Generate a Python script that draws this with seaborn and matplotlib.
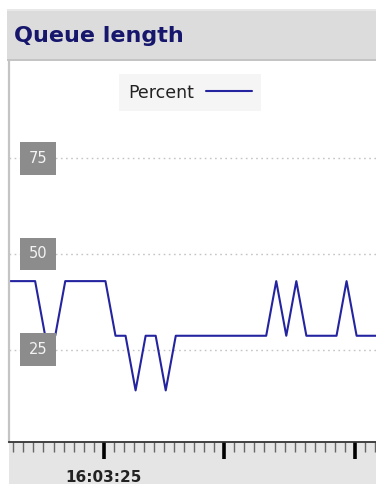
import numpy as np
import pandas as pd
import matplotlib
matplotlib.use("Agg")
import matplotlib.pyplot as plt
from matplotlib.patches import Rectangle
from matplotlib.ticker import FixedLocator, MultipleLocator
import seaborn as sns

# queue length in percent, one sample per second
percent = [42.9, 42.9, 42.9, 42.9, 28.6, 28.6, 42.9, 42.9, 42.9, 42.9,
           42.9, 28.6, 28.6, 14.3, 28.6, 28.6, 14.3, 28.6, 28.6, 28.6,
           28.6, 28.6, 28.6, 28.6, 28.6, 28.6, 28.6, 42.9, 28.6, 42.9,
           28.6, 28.6, 28.6, 28.6, 42.9, 28.6, 28.6, 28.6]
seconds = np.arange(len(percent)) + 0.17
y_ticks = [25, 50, 75]
major_x = [10, 22, 35]
major_labels = ["16:03:25", "", ""]

df = pd.DataFrame({"t": seconds, "Percent": percent})

sns.set_style("white")
plt.rcParams['font.family'] = ['DejaVu Sans']

W, H = 376, 484
fig = plt.figure(figsize=(W / 100, H / 100), dpi=100, facecolor="white")

# title band
fig.patches.append(Rectangle((7 / W, 1 - 61 / H), 1, 51 / H, transform=fig.transFigure,
                             facecolor="#dcdcdc", edgecolor="none", zorder=-2))
fig.patches.append(Rectangle((7 / W, 1 - 61 / H), 1, 1.5 / H, transform=fig.transFigure,
                             facecolor="#c4c4c4", edgecolor="none", zorder=-1))
fig.patches.append(Rectangle((7 / W, 1 - 11 / H), 1, 1.5 / H, transform=fig.transFigure,
                             facecolor="#e8e8e8", edgecolor="none", zorder=-1))
# bottom axis band
fig.patches.append(Rectangle((9 / W, 0), 1, 42 / H, transform=fig.transFigure,
                             facecolor="#e5e5e5", edgecolor="none", zorder=-2))

fig.text(14 / W, 1 - 36 / H, "Queue length", fontsize=16, fontweight="bold",
         color="#16166c", va="center", ha="left")

ax = fig.add_axes([9 / W, 42 / H, 1 - 9 / W, (442 - 61) / H])
ax.set_facecolor("white")

sns.lineplot(data=df, x="t", y="Percent", ax=ax, color="#2424a0", linewidth=1.5,
             label="Percent")

ax.set_xlim(0.57, 37.1)
ax.set_ylim(0.8, 100.5)

for v in y_ticks:
    ax.axhline(v, color="#c4c4c4", linestyle=(0, (1.2, 2.5)), linewidth=1, zorder=0)
    ax.text((38 - 9) / (W - 9), v, str(v),
            transform=ax.get_yaxis_transform(), ha="center", va="center",
            fontsize=10.5, color="#f4f4f4",
            bbox=dict(boxstyle="square,pad=0.6", facecolor="#8c8c8c", edgecolor="none"))

ax.set_yticks([])
ax.xaxis.set_major_locator(FixedLocator(major_x))
ax.xaxis.set_minor_locator(MultipleLocator(1))
ax.set_xticklabels(major_labels)
ax.tick_params(axis="x", which="major", direction="out", length=12, width=2.6,
               color="black", pad=8, labelsize=11, labelcolor="#222222", bottom=True)
ax.tick_params(axis="x", which="minor", direction="out", length=7, width=1,
               color="#666666", bottom=True)
for lbl in ax.get_xticklabels():
    lbl.set_fontweight("bold")
ax.set_xlabel("")
ax.set_ylabel("")

for s in ["top", "right"]:
    ax.spines[s].set_visible(False)
ax.spines["left"].set_color("#c4c4c4")
ax.spines["left"].set_linewidth(1.6)
ax.spines["bottom"].set_color("#333333")
ax.spines["bottom"].set_linewidth(1.3)

leg = ax.legend(loc="center", bbox_to_anchor=(190 / W, 1 - 92.5 / H),
                bbox_transform=fig.transFigure, markerfirst=False, frameon=True,
                fontsize=12.5, handlelength=2.6, handletextpad=0.7,
                borderpad=0.55, borderaxespad=0, fancybox=False)
leg.get_frame().set_facecolor("#f3f3f3")
leg.get_frame().set_edgecolor("none")
for t in leg.get_texts():
    t.set_color("#222222")

fig.savefig("out.png", dpi=100, facecolor="white")
